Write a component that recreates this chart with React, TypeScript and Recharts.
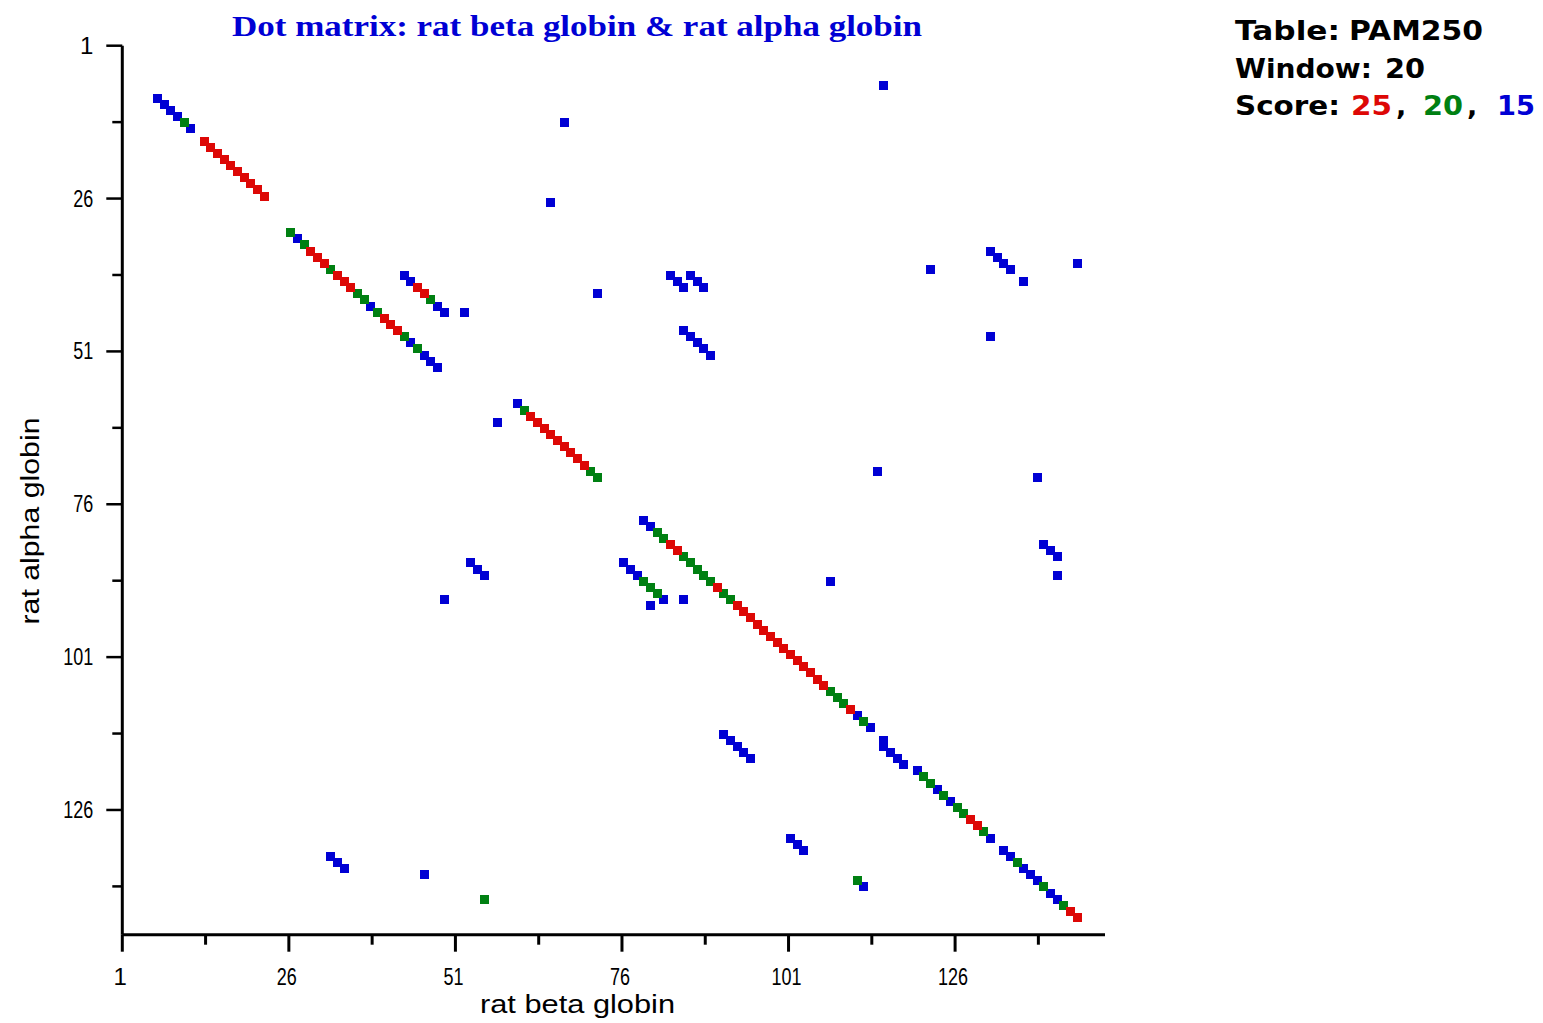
import React from 'react';
import { ScatterChart, Scatter, XAxis, YAxis } from 'recharts';

// [beta position, alpha position]
const RED_DOTS: [number, number][] = [
  [13, 17], [14, 18], [15, 19], [16, 20], [17, 21], [18, 22], [19, 23], [20, 24], [21, 25], [22, 26],
  [29, 35], [30, 36], [31, 37], [33, 39], [34, 40], [35, 41], [40, 46], [41, 47], [42, 48],
  [45, 41], [46, 42],
  [62, 62], [63, 63], [64, 64], [65, 65], [66, 66], [67, 67], [68, 68], [69, 69], [70, 70],
  [83, 83], [84, 84], [90, 90], [93, 93], [94, 94], [95, 95], [96, 96], [97, 97], [98, 98], [99, 99],
  [100, 100], [101, 101], [102, 102], [103, 103], [104, 104], [105, 105], [106, 106], [110, 110],
  [128, 128], [129, 129], [143, 143], [144, 144],
];

const GREEN_DOTS: [number, number][] = [
  [10, 14],
  [26, 32], [28, 34], [32, 38], [36, 42], [37, 43], [39, 45], [43, 49], [45, 51],
  [47, 43],
  [61, 61], [71, 71], [72, 72],
  [79, 89], [80, 90], [81, 91],
  [81, 81], [82, 82], [85, 85], [86, 86], [87, 87], [88, 88], [89, 89], [91, 91], [92, 92],
  [107, 107], [108, 108], [109, 109], [112, 112], [121, 121], [122, 122], [124, 124], [126, 126],
  [127, 127], [130, 130], [135, 135], [139, 139], [142, 142],
  [55, 141], [111, 138],
];

const BLUE_DOTS: [number, number][] = [
  [6, 10], [7, 11], [8, 12], [9, 13], [11, 15],
  [27, 33], [38, 44], [44, 50], [46, 52], [47, 53], [48, 54],
  [43, 39], [44, 40], [48, 44], [49, 45],
  [52, 45], [67, 14], [65, 27], [72, 42], [115, 8], [122, 38], [144, 37], [131, 49], [57, 63],
  [114, 71], [138, 72], [141, 88], [107, 89], [49, 92], [80, 93], [85, 92], [46, 137],
  [83, 39], [84, 40], [85, 41], [86, 39], [87, 40], [88, 41],
  [85, 48], [86, 49], [87, 50], [88, 51], [89, 52],
  [131, 35], [132, 36], [133, 37], [134, 38], [136, 40],
  [139, 83], [140, 84], [141, 85],
  [53, 86], [54, 87], [55, 88],
  [76, 86], [77, 87], [78, 88], [82, 92],
  [91, 114], [92, 115], [93, 116], [94, 117], [95, 118],
  [32, 134], [33, 135], [34, 136],
  [101, 131], [102, 132], [103, 133], [112, 139],
  [60, 60], [79, 79], [80, 80],
  [111, 111], [113, 113], [115, 115], [115, 116], [116, 117], [117, 118], [118, 119], [120, 120],
  [123, 123], [125, 125], [131, 131], [133, 133], [134, 134], [136, 136], [137, 137], [138, 138],
  [140, 140], [141, 141],
];

const X_TICKS = [1, 13.5, 26, 38.5, 51, 63.5, 76, 88.5, 101, 113.5, 126, 138.5];
const Y_TICKS = [1, 13.5, 26, 38.5, 51, 63.5, 76, 88.5, 101, 113.5, 126, 138.5];

const RED = '#dd0806';
const GREEN = '#008012';
const BLUE = '#0000d4';

const W = 1527;
const H = 1010;
const PLOT_LEFT = 114.3;
const PLOT_TOP = 37.7;
const PLOT_W = 982.7;
const PLOT_H = 889;
const PLOT_BOTTOM = PLOT_TOP + PLOT_H;
const Y_AXIS_W = 60;
const X_AXIS_H = 30;

const tickFont = "'Liberation Sans Narrow', 'Arial Narrow', 'Liberation Sans', sans-serif";

const toPoints = (arr: [number, number][]) => arr.map(([x, y]) => ({ x, y }));

const makeDot = (color: string) => (props: any) => {
  const { cx, cy } = props;
  if (cx == null || cy == null) return <g />;
  return (
    <rect x={cx - 4.5 + 2} y={cy - 4.5 - 2.5} width={9} height={9} fill={color} shapeRendering="crispEdges" />
  );
};

// narrow digits, like the original bitmap font
const labelLen = (v: number) => {
  const s = String(v);
  return s.length > 1 ? s.length * 10 : undefined;
};

const XTick = (props: any) => {
  const { x, payload } = props;
  const v = payload.value;
  const major = Number.isInteger(v);
  const len = labelLen(v);
  return (
    <g>
      <line x1={x} x2={x} y1={PLOT_BOTTOM} y2={PLOT_BOTTOM + (major ? 17 : 10)} stroke="#000" strokeWidth={3} />
      {major && (
        <text
          x={x - 2}
          y={PLOT_BOTTOM + 50}
          textAnchor="middle"
          fontFamily={tickFont}
          fontSize={24}
          fill="#000"
          textLength={len}
          lengthAdjust={len ? 'spacingAndGlyphs' : undefined}
        >
          {v}
        </text>
      )}
    </g>
  );
};

const YTick = (props: any) => {
  const { y, payload } = props;
  const v = payload.value;
  const major = Number.isInteger(v);
  const len = labelLen(v);
  return (
    <g>
      <line x1={PLOT_LEFT - (major ? 16 : 10)} x2={PLOT_LEFT} y1={y} y2={y} stroke="#000" strokeWidth={2.5} />
      {major && (
        <text
          x={PLOT_LEFT - 29}
          y={y + 8}
          textAnchor="end"
          fontFamily={tickFont}
          fontSize={24}
          fill="#000"
          textLength={len}
          lengthAdjust={len ? 'spacingAndGlyphs' : undefined}
        >
          {v}
        </text>
      )}
    </g>
  );
};

const legendFont = "'DejaVu Sans', sans-serif";

const App: React.FC = () => (
  <div style={{ position: 'relative', width: W, height: H, background: '#fff' }}>
    <ScatterChart
      width={W}
      height={H}
      margin={{
        top: PLOT_TOP,
        left: PLOT_LEFT - Y_AXIS_W,
        right: W - PLOT_LEFT - PLOT_W,
        bottom: H - PLOT_BOTTOM - X_AXIS_H,
      }}
    >
      <XAxis
        type="number"
        dataKey="x"
        domain={[1, 148.5]}
        ticks={X_TICKS}
        interval={0}
        allowDataOverflow
        height={X_AXIS_H}
        axisLine={{ stroke: '#000', strokeWidth: 3 }}
        tickLine={false}
        tick={<XTick />}
      />
      <YAxis
        type="number"
        dataKey="y"
        domain={[1, 146.4]}
        reversed
        ticks={Y_TICKS}
        interval={0}
        allowDataOverflow
        width={Y_AXIS_W}
        axisLine={{ stroke: '#000', strokeWidth: 3 }}
        tickLine={false}
        tick={<YTick />}
      />
      <Scatter data={toPoints(BLUE_DOTS)} fill={BLUE} shape={makeDot(BLUE)} isAnimationActive={false} />
      <Scatter data={toPoints(GREEN_DOTS)} fill={GREEN} shape={makeDot(GREEN)} isAnimationActive={false} />
      <Scatter data={toPoints(RED_DOTS)} fill={RED} shape={makeDot(RED)} isAnimationActive={false} />
    </ScatterChart>
    <svg width={W} height={H} style={{ position: 'absolute', left: 0, top: 0, pointerEvents: 'none' }}>
      <text
        x={224}
        y={28}
        fontFamily="'Liberation Serif', serif"
        fontWeight="bold"
        fontSize={30}
        fill={BLUE}
        textLength={690}
        lengthAdjust="spacingAndGlyphs"
      >
        Dot matrix: rat beta globin &amp; rat alpha globin
      </text>
      <text x={472} y={1005} fontFamily={tickFont} fontSize={26} fill="#000" textLength={195} lengthAdjust="spacingAndGlyphs">
        rat beta globin
      </text>
      <text
        x={0}
        y={0}
        transform="translate(31, 513) rotate(-90)"
        textAnchor="middle"
        fontFamily={tickFont}
        fontSize={26}
        fill="#000"
        textLength={207}
        lengthAdjust="spacingAndGlyphs"
      >
        rat alpha globin
      </text>
      <g fontFamily={legendFont} fontWeight="bold" fontSize={27} fill="#000">
        <text x={1227} y={32} textLength={105} lengthAdjust="spacingAndGlyphs">Table:</text>
        <text x={1341} y={32} textLength={134} lengthAdjust="spacingAndGlyphs">PAM250</text>
        <text x={1227} y={70} textLength={137} lengthAdjust="spacingAndGlyphs">Window:</text>
        <text x={1377} y={70} textLength={40} lengthAdjust="spacingAndGlyphs">20</text>
        <text x={1227} y={107} textLength={105} lengthAdjust="spacingAndGlyphs">Score:</text>
        <text x={1343} y={107} textLength={41} lengthAdjust="spacingAndGlyphs" fill={RED}>25</text>
        <text x={1388} y={107}>,</text>
        <text x={1415} y={107} textLength={40} lengthAdjust="spacingAndGlyphs" fill={GREEN}>20</text>
        <text x={1459} y={107}>,</text>
        <text x={1489} y={107} textLength={38} lengthAdjust="spacingAndGlyphs" fill={BLUE}>15</text>
      </g>
    </svg>
  </div>
);

export default App;
